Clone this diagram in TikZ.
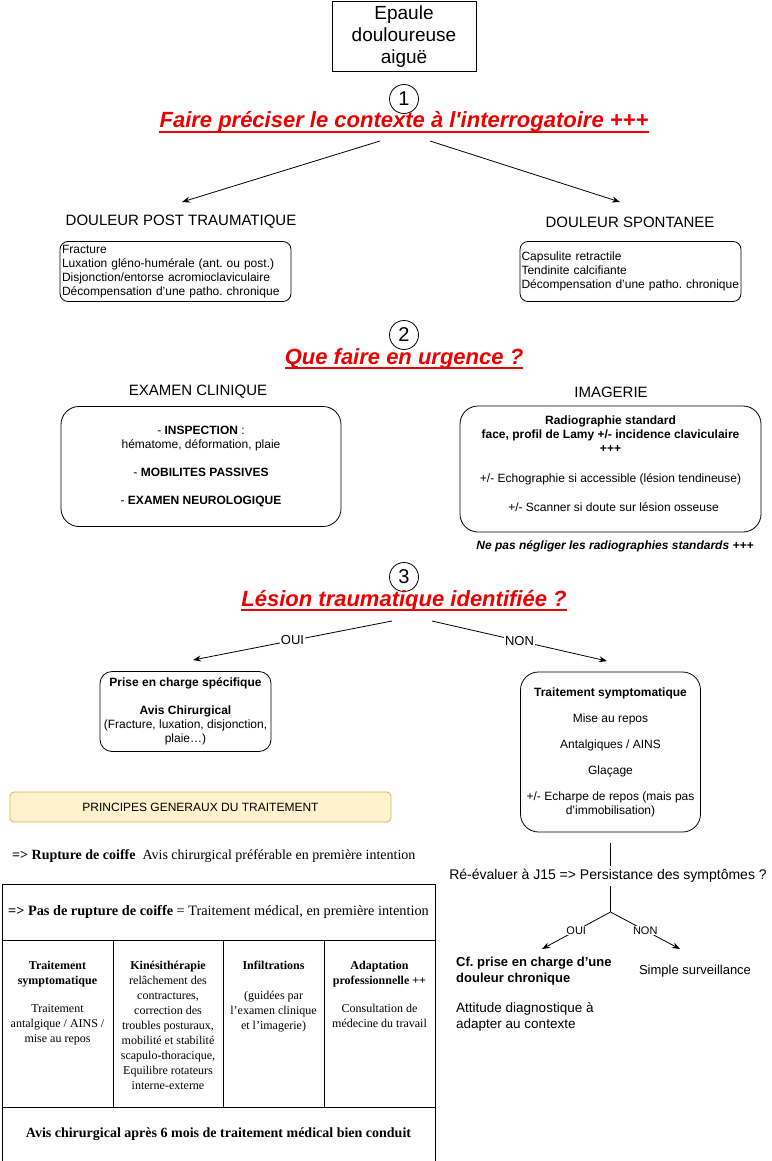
\documentclass[tikz,border=0pt]{standalone}
\usepackage{fontspec}
\setmainfont{Liberation Sans}[Ligatures=TeXOff]
\newfontfamily\timesfont{Liberation Serif}
\usetikzlibrary{arrows.meta, positioning}
\definecolor{alertred}{RGB}{235,0,0}
\definecolor{notefill}{RGB}{255,242,204}
\definecolor{notedraw}{RGB}{214,182,86}

\tikzset{
  mainbox/.style={draw, line width=0.8pt, align=center, inner sep=0pt, font=\fontsize{19}{22}\selectfont},
  listbox/.style={draw, line width=0.8pt, rounded corners=8pt, align=left, inner sep=2pt, font=\fontsize{12}{14}\selectfont},
  bigbox/.style={draw, line width=0.8pt, rounded corners=18pt, align=center, inner sep=0pt, font=\fontsize{12}{14}\selectfont},
  boxtext/.style={align=center, inner sep=0pt, font=\fontsize{12}{14}\selectfont},
  heading/.style={inner sep=0pt, font=\fontsize{15}{18}\selectfont},
  stepnum/.style={circle, draw, line width=0.8pt, minimum size=29pt, inner sep=0pt, font=\fontsize{20}{20}\selectfont},
  redtitle/.style={text=alertred, anchor=base, inner sep=0pt, font=\bfseries\itshape\fontsize{22}{26}\selectfont},
  redrule/.style={alertred, line width=1.8pt},
  arr/.style={-{Stealth[length=8pt, width=6pt]}, line width=0.8pt},
  arrlabel/.style={fill=white, inner sep=1pt, font=\fontsize{13}{13}\selectfont},
  smalllabel/.style={fill=white, inner sep=1pt, font=\fontsize{11}{11}\selectfont},
  plaintext/.style={inner sep=0pt, align=left, font=\fontsize{13.5}{16}\selectfont},
  tabletext/.style={anchor=north, align=center, inner sep=0pt, font=\timesfont\fontsize{12}{15}\selectfont},
  tableline/.style={line width=0.9pt}
}

\begin{document}
\frenchspacing
\begin{tikzpicture}[x=1pt, y=-1pt]
\useasboundingbox (0,0) rectangle (771,1161);
\fill[white] (0,0) rectangle (771,1161);

% Start box
\node[mainbox, minimum width=144, minimum height=70] (epaule) at (404,36.5) {Epaule\\douloureuse\\aiguë};

% Step 1: context
\node[stepnum] (num1) at (404,99) {1};
\node[redtitle] (ctx) at (404,128) {Faire préciser le contexte à l'interrogatoire +++};
\draw[redrule] ([yshift=-4pt]ctx.base west) -- ([yshift=-4pt]ctx.base east);

\node[heading] (postT) at (181,222) {DOULEUR POST TRAUMATIQUE};
\node[heading] (spontT) at (630,222) {DOULEUR SPONTANEE};
\coordinate (ctxL) at (380,141);
\coordinate (ctxR) at (430,141);
\coordinate (postTip) at (182,202);
\coordinate (spontTip) at (620,202);
\draw[arr] (ctxL) -- (postTip);
\draw[arr] (ctxR) -- (spontTip);

\node[listbox, minimum height=60, text width=227] (postList) at (175.5,271.5) {Fracture\\Luxation gléno-humérale (ant. ou post.)\\Disjonction/entorse acromioclaviculaire\\Décompensation d’une patho. chronique};
\node[listbox, inner xsep=1.5pt, minimum height=60, text width=218] (spontList) at (630.5,271.5) {Capsulite retractile\\Tendinite calcifiante\\Décompensation d’une patho. chronique};

% Step 2: emergency
\node[stepnum] (num2) at (404,335) {2};
\node[redtitle] (urg) at (404,364) {Que faire en urgence ?};
\draw[redrule] ([yshift=-4pt]urg.base west) -- ([yshift=-4pt]urg.base east);

\node[heading] (examT) at (198,392) {EXAMEN CLINIQUE};
\node[heading] (imgT) at (611,392) {IMAGERIE};

\node[bigbox, minimum width=280, minimum height=120] (examBox) at (201,466.5) {- \textbf{INSPECTION} :\\hématome, déformation, plaie\\[14pt]- \textbf{MOBILITES PASSIVES}\\[14pt]- \textbf{EXAMEN NEUROLOGIQUE}};
\node[bigbox, minimum width=301, minimum height=126] (imgBox) at (610.5,469) {};
\node[boxtext] (imgText) at (610.5,463.5) {\textbf{Radiographie standard}\\\textbf{face, profil de Lamy +/- incidence claviculaire}\\\textbf{+++}\\[16pt]+/- Echographie si accessible (lésion tendineuse)\\[15pt]\hspace*{6pt}+/- Scanner si doute sur lésion osseuse};
\node[inner sep=0pt, font=\bfseries\itshape\fontsize{12}{14}\selectfont] (imgNote) at (615,546) {Ne pas négliger les radiographies standards +++};

% Step 3: lesion
\node[stepnum] (num3) at (404,577) {3};
\node[redtitle] (lesion) at (404,606) {Lésion traumatique identifiée ?};
\draw[redrule] ([yshift=-4pt]lesion.base west) -- ([yshift=-4pt]lesion.base east);

\coordinate (lesL) at (392,621);
\coordinate (lesR) at (432,621);
\coordinate (ouiTip) at (193,660);
\coordinate (nonTip) at (607,661);
\draw[arr] (lesL) -- node[arrlabel, pos=0.5] {OUI} (ouiTip);
\draw[arr] (lesR) -- node[arrlabel, pos=0.5] {NON} (nonTip);

\node[bigbox, rounded corners=12pt, minimum width=171, minimum height=80] (priseBox) at (185.5,711.5) {\textbf{Prise en charge spécifique}\\[14pt]\textbf{Avis Chirurgical}\\(Fracture, luxation, disjonction,\\plaie…)};
\node[bigbox, minimum width=180, minimum height=160] (symptoBox) at (610.5,752) {\textbf{Traitement symptomatique}\\[12pt]Mise au repos\\[12pt]Antalgiques / AINS\\[12pt]Glaçage\\[12pt]+/- Echarpe de repos (mais pas\\d’immobilisation)};

% Re-evaluation
\node[inner sep=3pt, font=\fontsize{14}{16}\selectfont] (reeval) at (608,876) {Ré-évaluer à J15 => Persistance des symptômes ?};
\coordinate (fork) at (610.5,912);
\draw[line width=0.8pt] ([yshift=-11pt]symptoBox.south) -- (reeval.north -| symptoBox.south);
\draw[line width=0.8pt] (reeval.south -| fork) -- (fork);
\coordinate (chronTip) at (542,949);
\coordinate (survTip) at (680,949);
\draw[arr] (fork) -- node[smalllabel, pos=0.5] {OUI} (chronTip);
\draw[arr] (fork) -- node[smalllabel, pos=0.5] {NON} (survTip);

\node[plaintext, anchor=west, font=\bfseries\fontsize{13}{16}\selectfont] (chron) at (456,971) {Cf. prise en charge d’une\\douleur chronique};
\node[plaintext, anchor=west] (attitude) at (456,1016.5) {Attitude diagnostique à\\adapter au contexte};
\node[plaintext, font=\fontsize{13}{16}\selectfont] (surv) at (695,971) {Simple surveillance};

% General treatment principles
\node[draw=notedraw, fill=notefill, line width=0.8pt, rounded corners=4pt, minimum width=381, minimum height=30, inner sep=0pt, font=\fontsize{12}{14}\selectfont] (principes) at (200.5,807) {PRINCIPES GENERAUX DU TRAITEMENT};
\node[anchor=west, inner sep=0pt, font=\timesfont\fontsize{14}{16}\selectfont] (rupture) at (12,856) {\textbf{=> Rupture de coiffe}\ \ Avis chirurgical préférable en première intention};

% Table
\draw[tableline] (2,884) rectangle (435,1175);
\draw[tableline] (2,940) -- (435,940);
\draw[tableline] (2,1107) -- (435,1107);
\foreach \colx in {113,223,324}
  \draw[tableline] (\colx,940) -- (\colx,1107);

\node[inner sep=0pt, font=\timesfont\fontsize{14.3}{16}\selectfont] (noRupture) at (218.5,912) {\textbf{=> Pas de rupture de coiffe} = Traitement médical, en première intention};
\node[tabletext] (colSympto) at (57.5,961) {\textbf{Traitement}\\\textbf{symptomatique}\\[13pt]Traitement\\antalgique / AINS /\\mise au repos};
\node[tabletext] (colKine) at (168,961) {\textbf{Kinésithérapie}\\relâchement des\\contractures,\\correction des\\troubles posturaux,\\mobilité et stabilité\\scapulo-thoracique,\\Equilibre rotateurs\\interne-externe};
\node[tabletext] (colInfil) at (273.5,961) {\textbf{Infiltrations}\\[15pt](guidées par\\l’examen clinique\\et l’imagerie)};
\node[tabletext] (colAdapt) at (379.5,961) {\textbf{Adaptation}\\\textbf{professionnelle ++}\\[13pt]Consultation de\\médecine du travail};
\node[inner sep=0pt, font=\timesfont\bfseries\fontsize{14}{16}\selectfont] (avis) at (218.5,1134) {Avis chirurgical après 6 mois de traitement médical bien conduit};
\end{tikzpicture}
\end{document}
